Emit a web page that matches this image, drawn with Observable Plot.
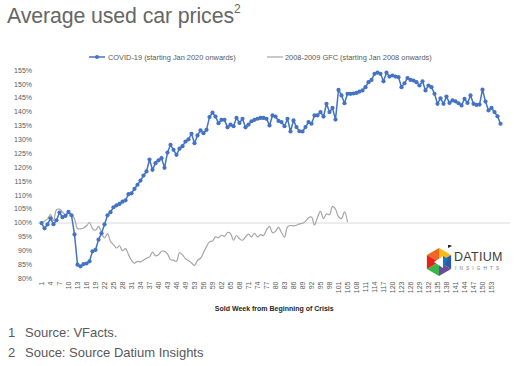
<!DOCTYPE html>
<html>
<head>
<meta charset="utf-8">
<script src="https://cdn.jsdelivr.net/npm/d3@7"></script>
<script src="https://cdn.jsdelivr.net/npm/@observablehq/plot@0.6"></script>
<style>
  html, body { margin: 0; padding: 0; background: #fff; }
  body { width: 514px; height: 366px; position: relative; overflow: hidden; font-family: "Liberation Sans", Arial, sans-serif; color: #595959; }
  #title { position: absolute; left: 7px; top: 4px; font-size: 21.3px; color: #666; letter-spacing: -0.1px; white-space: nowrap; }
  #title sup { font-size: 12px; position: relative; top: -2px; vertical-align: super; line-height: 0; }
  #legend { position: absolute; left: 0; top: 52px; width: 514px; height: 10px; font-size: 7.4px; color: #595959; }
  .lg { position: absolute; top: 0; white-space: nowrap; display: flex; align-items: center; height: 10px; }
  #chart { position: absolute; left: 0; top: 62px; }
  #xlabel-fix { font-weight: bold; }
  #notes { position: absolute; left: 8px; top: 323px; font-size: 13px; color: #595959; line-height: 20px; }
  #notes span.n { display: inline-block; width: 17px; }
  #logo { position: absolute; left: 426px; top: 245px; }
  svg [aria-label="x-axis label"] { font-weight: bold; fill: #262626; }
</style>
</head>
<body>
<div id="title">Average used car prices<sup>2</sup></div>
<div id="legend">
  <div class="lg" style="left:89px">
    <svg width="17" height="10"><line x1="0" y1="5" x2="16" y2="5" stroke="#4472c4" stroke-width="1.5"/><circle cx="8" cy="5" r="2" fill="#4472c4"/></svg>
    <span style="margin-left:2px">COVID-19 (starting Jan 2020 onwards)</span>
  </div>
  <div class="lg" style="left:267px">
    <svg width="17" height="10"><line x1="0" y1="5" x2="16" y2="5" stroke="#a5a5a5" stroke-width="1.2"/></svg>
    <span style="margin-left:1px">2008-2009 GFC (starting Jan 2008 onwards)</span>
  </div>
</div>
<div id="chart"></div>
<div id="notes">
  <div><span class="n">1</span>Source: VFacts.</div>
  <div><span class="n">2</span>Souce: Source Datium Insights</div>
</div>
<svg id="logo" width="76" height="34" viewBox="0 0 76 34">
  <g transform="translate(13,17)">
    <polygon points="0,0 -12.1,-7 0,-14" fill="#f26522"/>
    <polygon points="0,0 0,-14 12.1,-7" fill="#fdb913"/>
    <polygon points="0,0 12.1,-7 12.1,7" fill="#2b5aa8"/>
    <polygon points="0,0 12.1,7 0,14" fill="#6a4c9c"/>
    <polygon points="0,0 0,14 -12.1,7" fill="#39b54a"/>
    <polygon points="0,0 -12.1,7 -12.1,-7" fill="#e2231a"/>
    <polygon points="-5,0 4,-6 4,6" fill="#ffffff"/>
    <polygon points="4,-6 9,-3 4,6" fill="#1c75bc"/>
    <polygon points="9,-18 13,-16 9,-14" fill="#222"/>
  </g>
  <text x="28" y="16" font-family="Liberation Sans, Arial" font-size="12.5" fill="#3d3d3d" letter-spacing="0.3">DATIUM</text>
  <text x="29" y="25" font-family="Liberation Sans, Arial" font-size="4.6" fill="#777" letter-spacing="3.2">INSIGHTS</text>
</svg>
<script>
// Category axis: sold week from beginning of crisis (as labelled on the chart)
const weeks = [
  1,2,3,4,5,6,7,8,9,10,11,12,13,14,15,16,17,18,19,20,
  21,22,23,24,25,26,27,28,29,30,31,32,33,34,35,36,37,38,39,40,
  41,42,43,44,45,46,47,48,49,51,52,53,54,55,56,57,58,59,60,61,
  62,63,64,65,66,67,68,69,70,71,72,73,74,75,76,77,78,79,80,81,
  82,83,84,85,86,87,88,89,90,91,92,93,94,95,96,97,98,99,100,101,
  102,104,105,106,107,108,109,110,111,112,113,114,115,116,117,118,119,120,121,122,
  123,124,125,126,127,128,129,130,131,132,133,134,135,136,137,138,139,140,141,142,
  143,144,145,146,147,148,149,150,151,152,153,154,155,156,157,158
];

const xTickLabels = [1,4,7,10,13,16,19,22,25,28,31,34,37,40,43,46,49,53,56,59,62,65,68,71,74,77,80,83,86,89,92,95,98,101,105,108,111,114,117,120,123,126,129,132,135,138,141,144,147,150,153];

const yTicks = [80,85,90,95,100,105,110,115,120,125,130,135,140,145,150,155];

// COVID-19 (starting Jan 2020 onwards), % of starting price
const covid = [
  100.0, 98.1, 99.5, 101.7, 99.6, 101.0, 103.8, 102.1, 102.6, 104.0,
  102.8, 95.9, 85.0, 84.4, 85.2, 85.4, 86.2, 89.8, 90.3, 94.0,
  96.3, 99.5, 102.8, 103.9, 105.7, 106.4, 106.9, 107.7, 108.2, 110.4,
  110.7, 112.3, 113.8, 115.3, 117.1, 118.6, 122.9, 119.2, 121.6, 122.6,
  123.4, 119.9, 125.4, 128.2, 126.4, 124.6, 126.8, 127.7, 129.4, 130.2,
  132.2, 128.8, 131.6, 133.4, 132.4, 133.6,
  138.2, 139.8, 138.4, 136.0, 137.2, 137.2, 134.5, 135.5, 134.9, 137.9,
  136.1, 137.6, 134.5, 135.5, 136.7, 137.2, 137.6, 137.9, 137.9, 137.6,
  135.2, 138.8, 138.4, 136.8,
  136.4, 134.9, 137.6, 133.0, 137.0, 134.6, 133.1, 133.0, 134.6, 136.4,
  135.8, 138.8, 138.8, 140.0, 138.4, 143.0, 140.0, 141.5, 137.3, 148.0,
  146.0, 143.2, 146.6, 146.6, 146.7, 146.9, 147.4, 147.8, 149.0, 150.8,
  151.6, 153.8, 154.2, 153.8, 151.1, 154.2, 152.8, 153.2, 152.8, 152.6,
  149.0, 150.4, 152.3, 151.6, 151.4, 150.8, 149.6, 151.1, 147.8, 149.6,
  149.0, 146.6, 143.0, 145.0, 143.0, 145.6, 143.3, 144.2, 143.9, 143.2,
  142.4, 144.8, 143.3, 146.0, 143.0, 142.6, 142.7, 148.1, 143.8, 140.6,
  141.5, 140.0, 138.5, 135.8
];

// 2008-2009 GFC (starting Jan 2008 onwards), % of starting price
const gfc = [
  100.0, 100.7, 101.5, 103.1, 100.9, 104.8, 105.0, 104.0, 103.0, 103.5,
  103.0, 101.5, 98.0, 97.9, 98.2, 99.0, 100.2, 98.0, 97.4, 98.8,
  96.6, 94.6, 96.2, 93.4, 92.2, 91.0, 91.8, 90.0, 90.8, 88.6,
  86.6, 85.5, 86.2, 86.0, 86.6, 87.3, 87.8, 89.5, 88.2, 88.6,
  89.8, 89.8, 88.9, 86.8, 86.6, 86.2, 89.3, 88.5, 87.1, 86.5,
  85.6, 84.7, 86.5, 87.3, 89.3, 91.5, 93.2, 93.5, 95.0, 94.7,
  95.6, 95.2, 96.6, 96.2, 93.8, 95.5, 94.3, 93.8, 95.0, 96.0,
  95.0, 96.3, 95.0, 95.8, 95.5, 97.5, 98.8, 96.5, 97.0, 98.5,
  96.5, 94.9, 98.6, 99.1, 99.0, 99.2, 99.7, 99.9, 100.6, 101.9,
  102.2, 99.3, 102.0, 104.2, 101.6, 103.3, 103.0, 106.0, 105.0, 102.3,
  101.6, 104.0, 100.5
];

const covidData = covid.map((v, i) => ({week: weeks[i], value: v}));
const gfcData = gfc.map((v, i) => ({week: weeks[i], value: v}));

const chart = Plot.plot({
  width: 514,
  height: 252,
  marginTop: 8,
  marginBottom: 36,
  marginLeft: 37.5,
  marginRight: 4,
  style: {fontFamily: "Liberation Sans, Arial, sans-serif", fontSize: "7px", color: "#595959", background: "transparent", overflow: "visible"},
  x: {type: "point", domain: weeks, padding: 0.5, label: null},
  y: {domain: [80, 155], label: null},
  marks: [
    Plot.ruleY([100], {stroke: "#d9d9d9", strokeWidth: 1}),
    Plot.axisY({ticks: yTicks, tickFormat: d => d + "%", tickSize: 0, tickPadding: 6, label: null}),
    Plot.axisX({ticks: xTickLabels, tickSize: 0, tickPadding: 3, tickRotate: -90,
      label: "Sold Week from Beginning of Crisis", labelAnchor: "center", labelArrow: "none", labelOffset: 32}),
    Plot.line(gfcData, {x: "week", y: "value", stroke: "#a5a5a5", strokeWidth: 1.2, curve: "catmull-rom"}),
    Plot.line(covidData, {x: "week", y: "value", stroke: "#4472c4", strokeWidth: 1.5}),
    Plot.dot(covidData, {x: "week", y: "value", fill: "#4472c4", r: 2.1})
  ]
});
document.getElementById("chart").appendChild(chart);
</script>
</body>
</html>
